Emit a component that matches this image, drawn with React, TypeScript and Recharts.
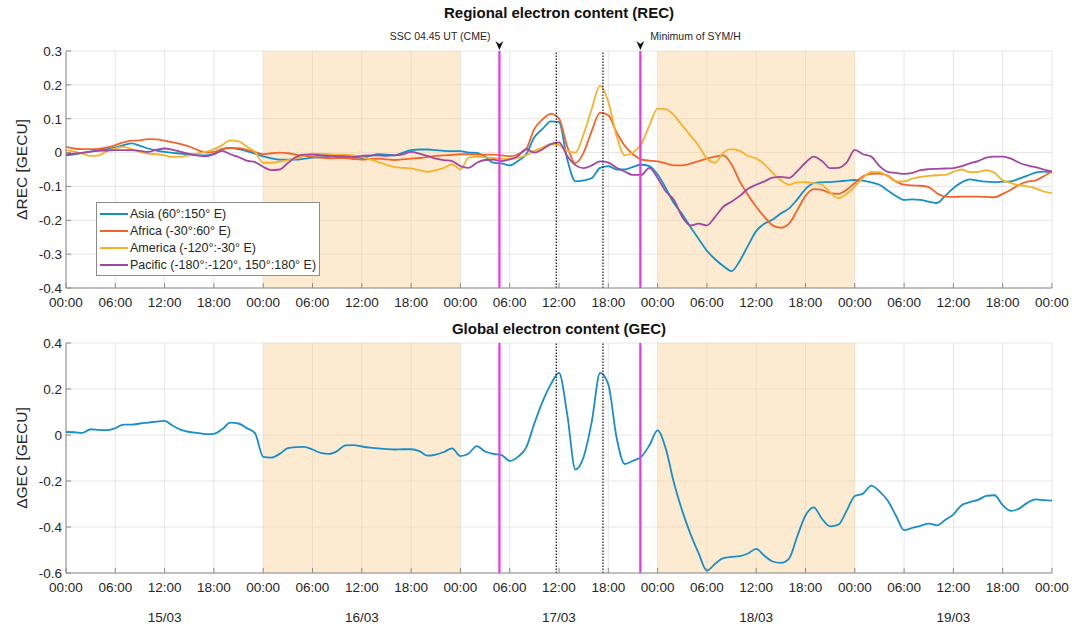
import { LineChart, Line, XAxis, YAxis, CartesianGrid, ReferenceArea, ReferenceLine, Legend } from 'recharts';

// hours since 15/03 00:00 UT
const hours = Array.from({ length: 121 }, (_, i) => i);
const xTicks = [0, 6, 12, 18, 24, 30, 36, 42, 48, 54, 60, 66, 72, 78, 84, 90, 96, 102, 108, 114, 120];
const dayLabels = ['15/03', '16/03', '17/03', '18/03', '19/03'];
const recTicks = [-0.4, -0.3, -0.2, -0.1, 0, 0.1, 0.2, 0.3];
const gecTicks = [-0.6, -0.4, -0.2, 0, 0.2, 0.4];

// shaded days (16/03 and 18/03) and event times
const shadedDays = [[24, 48], [72, 96]];
const sscHour = 52.75;
const symhHour = 69.9;
const peakHours = [59.67, 65.35];

const asia = [
  -0.008, -0.005, -0.001, 0.003, 0.007, 0.01, 0.015, 0.022, 0.027, 0.02, 0.012, 0.006, 0.002, -0.001, -0.003, -0.006,
  -0.008, -0.008, -0.004, 0.01, 0.014, 0.01, 0.004, -0.003, -0.011, -0.017, -0.021, -0.021, -0.021, -0.018, -0.015, -0.014,
  -0.013, -0.01, -0.008, -0.013, -0.016, -0.01, -0.005, -0.006, -0.008, 0.0, 0.007, 0.009, 0.009, 0.007, 0.005, 0.004,
  0.004, 0.0, -0.001, -0.012, -0.03, -0.032, -0.038, -0.025, -0.005, 0.045, 0.07, 0.092, 0.09, -0.02, -0.085, -0.082,
  -0.075, -0.045, -0.04, -0.05, -0.05, -0.042, -0.036, -0.04, -0.065, -0.105, -0.15, -0.182, -0.22, -0.255, -0.29, -0.315,
  -0.335, -0.35, -0.32, -0.275, -0.232, -0.21, -0.198, -0.18, -0.165, -0.138, -0.108, -0.09, -0.088, -0.087, -0.085, -0.083,
  -0.081, -0.083, -0.088, -0.095, -0.112, -0.128, -0.14, -0.138, -0.14, -0.145, -0.149, -0.128, -0.105, -0.088, -0.079, -0.083,
  -0.086, -0.087, -0.086, -0.085, -0.077, -0.068, -0.059, -0.056, -0.058,
];
const africa = [
  0.017, 0.012, 0.01, 0.01, 0.011, 0.015, 0.022, 0.03, 0.035, 0.036, 0.04, 0.039, 0.035, 0.03, 0.025, 0.018,
  0.008, 0.0, 0.002, 0.01, 0.013, 0.013, 0.008, 0.002, -0.005, -0.002, 0.0, -0.002, -0.006, -0.01, -0.013, -0.015,
  -0.017, -0.016, -0.016, -0.019, -0.021, -0.019, -0.018, -0.02, -0.022, -0.02, -0.018, -0.016, -0.013, -0.01, -0.008, -0.007,
  -0.005, -0.005, -0.006, -0.006, -0.006, -0.008, -0.011, -0.005, 0.01, 0.07, 0.098, 0.114, 0.1, 0.018, -0.031, 0.0,
  0.065, 0.118, 0.11, 0.06, 0.02, -0.005, -0.02, -0.024, -0.026, -0.032, -0.038, -0.038, -0.033, -0.025, -0.018, -0.012,
  -0.008, -0.035, -0.085, -0.125, -0.16, -0.19, -0.215, -0.222, -0.21, -0.17, -0.128, -0.108, -0.11, -0.12, -0.122, -0.11,
  -0.09, -0.07, -0.063, -0.062, -0.068, -0.085, -0.095, -0.097, -0.098, -0.102, -0.12, -0.13, -0.131, -0.13, -0.13, -0.13,
  -0.131, -0.132, -0.122, -0.11, -0.095, -0.086, -0.082, -0.07, -0.055,
];
const america = [
  0.007, 0.003, -0.003, -0.01, -0.008, 0.005, 0.012, 0.017, 0.01, 0.002, -0.003, -0.005, -0.008, -0.013, -0.012, -0.008,
  -0.003, 0.002, 0.01, 0.022, 0.036, 0.033, 0.018, 0.002, -0.03, -0.03, -0.027, -0.022, -0.017, -0.01, -0.003, -0.004,
  -0.005, -0.006, -0.006, -0.008, -0.013, -0.02, -0.028, -0.036, -0.043, -0.045, -0.047, -0.052, -0.057, -0.052, -0.045, -0.035,
  -0.05, -0.015, -0.012, -0.014, -0.016, -0.018, -0.02, -0.016, -0.008, 0.005, 0.015, 0.025, 0.022, 0.005, 0.0, 0.055,
  0.13, 0.198, 0.15, 0.05, -0.008, 0.0, 0.025, 0.08, 0.13, 0.128, 0.11, 0.08, 0.05, 0.02, -0.018, -0.03,
  0.0, 0.01, 0.005, -0.01, -0.017, -0.035, -0.06, -0.082, -0.095, -0.088, -0.087, -0.09, -0.095, -0.118, -0.135, -0.122,
  -0.1, -0.075, -0.057, -0.058, -0.07, -0.085, -0.085, -0.077, -0.072, -0.069, -0.067, -0.066, -0.057, -0.05, -0.058, -0.057,
  -0.052, -0.06, -0.082, -0.09, -0.096, -0.1, -0.106, -0.115, -0.12,
];
const pacific = [
  -0.005, -0.003, -0.001, 0.003, 0.005, 0.006, 0.007, 0.007, 0.007, 0.005, 0.002, 0.008, 0.012, 0.008, 0.002, -0.004,
  -0.008, -0.011, -0.005, 0.005, -0.005, -0.013, -0.024, -0.028, -0.042, -0.052, -0.05, -0.031, -0.013, -0.006, -0.006, -0.008,
  -0.01, -0.011, -0.012, -0.013, -0.01, -0.008, -0.008, -0.01, -0.008, -0.005, 0.002, -0.003, -0.01, -0.018, -0.022, -0.025,
  -0.04, -0.045, -0.03, -0.022, -0.021, -0.025, -0.02, -0.01, 0.01, 0.0, 0.01, 0.025, 0.03, -0.01, -0.037, -0.046,
  -0.038, -0.026, -0.03, -0.045, -0.056, -0.066, -0.066, -0.045, -0.075, -0.115, -0.14, -0.19, -0.215, -0.21, -0.215, -0.19,
  -0.16, -0.145, -0.128, -0.107, -0.095, -0.085, -0.074, -0.072, -0.075, -0.055, -0.03, -0.012, -0.025, -0.046, -0.045, -0.03,
  0.008, -0.005, -0.012, -0.04, -0.057, -0.06, -0.063, -0.06, -0.052, -0.049, -0.048, -0.047, -0.046, -0.04, -0.032, -0.025,
  -0.015, -0.012, -0.012, -0.018, -0.03, -0.038, -0.043, -0.05, -0.056,
];
const gec = [
  0.013, 0.012, 0.009, 0.025, 0.022, 0.021, 0.03, 0.045, 0.045, 0.05, 0.054, 0.058, 0.061, 0.04, 0.022, 0.013,
  0.009, 0.004, 0.005, 0.025, 0.054, 0.05, 0.03, 0.008, -0.095, -0.098, -0.082, -0.057, -0.053, -0.052, -0.063, -0.078,
  -0.082, -0.07, -0.045, -0.044, -0.05, -0.055, -0.058, -0.061, -0.063, -0.062, -0.062, -0.07, -0.09, -0.085, -0.074, -0.058,
  -0.092, -0.08, -0.048, -0.072, -0.082, -0.087, -0.113, -0.095, -0.055, 0.05, 0.145, 0.22, 0.27, 0.09, -0.15, -0.095,
  0.06, 0.27, 0.22, -0.01, -0.126, -0.112, -0.095, -0.045, 0.02, -0.06, -0.21, -0.33, -0.43, -0.515, -0.59, -0.56,
  -0.535, -0.53, -0.527, -0.515, -0.495, -0.525, -0.55, -0.556, -0.537, -0.44, -0.35, -0.315, -0.364, -0.397, -0.39, -0.33,
  -0.265, -0.255, -0.22, -0.245, -0.285, -0.35, -0.414, -0.404, -0.395, -0.385, -0.393, -0.37, -0.345, -0.305, -0.292, -0.282,
  -0.265, -0.262, -0.305, -0.33, -0.32, -0.295, -0.28, -0.283, -0.285,
];

const regions = [
  { key: 'asia', name: 'Asia (60°:150° E)', color: '#1590c8' },
  { key: 'africa', name: 'Africa (-30°:60° E)', color: '#f0652b' },
  { key: 'america', name: 'America (-120°:-30° E)', color: '#f7b22a' },
  { key: 'pacific', name: 'Pacific (-180°:-120°, 150°:180° E)', color: '#a2479f' },
];

const recData = hours.map((h, i) => ({ h, asia: asia[i], africa: africa[i], america: america[i], pacific: pacific[i] }));
const gecData = hours.map((h, i) => ({ h, gec: gec[i] }));

const FONT = "'Liberation Sans', Arial, Helvetica, sans-serif";
const TEXT = '#262626';
const AXIS = '#8c8c8c';

function TimeTick(props: any) {
  const { x, y, payload, showDate } = props;
  const h = payload.value as number;
  const hh = h % 24;
  const label = `${String(hh).padStart(2, '0')}:00`;
  return (
    <g>
      <text x={x} y={y} dy="0.71em" textAnchor="middle" fontSize={13.5} fill={TEXT} fontFamily={FONT}>
        {label}
      </text>
      {showDate && hh === 12 && (
        <text x={x} y={y + 30} dy="0.71em" textAnchor="middle" fontSize={13.5} fill={TEXT} fontFamily={FONT}>
          {dayLabels[Math.floor(h / 24)]}
        </text>
      )}
    </g>
  );
}

const eventMarker = (text: string, side: 'left' | 'right') => (props: any) => {
  const { x, y } = props.viewBox;
  return (
    <g>
      <path d={`M${x - 4},${y - 10} L${x},${y - 1} L${x + 4},${y - 10} L${x},${y - 7} Z`} fill="#111" />
      <text
        x={side === 'left' ? x - 9 : x + 10}
        y={y - 11}
        textAnchor={side === 'left' ? 'end' : 'start'}
        fontSize={10.5}
        fill={TEXT}
        fontFamily={FONT}
      >
        {text}
      </text>
    </g>
  );
};

// legend keeps the series order (Asia, Africa, America, Pacific)
function RegionLegend() {
  return (
    <div style={{ border: '1px solid #8c8c8c', background: '#fff', padding: '2px 3px 2px 3px', fontFamily: FONT, fontSize: 12.5, color: TEXT }}>
      {regions.map((r) => (
        <div key={r.key} style={{ display: 'flex', alignItems: 'center', height: 17, whiteSpace: 'nowrap' }}>
          <span style={{ display: 'inline-block', width: 28, height: 2, background: r.color, marginRight: 2 }} />
          <span>{r.name}</span>
        </div>
      ))}
    </div>
  );
}

const titleStyle: React.CSSProperties = {
  position: 'absolute',
  left: 66,
  width: 986,
  textAlign: 'center',
  fontFamily: FONT,
  fontWeight: 'bold',
  fontSize: 15,
  color: '#111',
  lineHeight: '18px',
};

export default function App() {
  return (
    <div style={{ position: 'absolute', left: 0, top: 0, width: 1084, height: 627, background: '#fff', overflow: 'hidden' }}>
      <div style={{ ...titleStyle, top: 4 }}>Regional electron content (REC)</div>
      <div style={{ ...titleStyle, top: 320 }}>Global electron content (GEC)</div>

      <div style={{ position: 'absolute', left: 0, top: 0 }}>
        <LineChart width={1084} height={318} data={recData} margin={{ top: 51, right: 32, bottom: 0, left: 0 }}>
          <CartesianGrid stroke="#e6e6e6" horizontal vertical />
          {shadedDays.map(([a, b]) => (
            <ReferenceArea key={a} x1={a} x2={b} fill="#fbd39a" fillOpacity={0.45} stroke="none" />
          ))}
          <XAxis
            type="number"
            dataKey="h"
            domain={[0, 120]}
            ticks={xTicks}
            allowDataOverflow
            height={30}
            stroke={AXIS}
            tickSize={-5}
            tickMargin={14}
            tick={<TimeTick />}
          />
          <YAxis
            type="number"
            domain={[-0.4, 0.3]}
            ticks={recTicks}
            allowDataOverflow
            width={66}
            stroke={AXIS}
            tickSize={-5}
            tickMargin={9}
            tick={{ fontSize: 13.5, fill: TEXT, fontFamily: FONT }}
            tickFormatter={(v: number) => (v === 0 ? '0' : v.toFixed(1))}
            label={{ value: 'ΔREC [GECU]', angle: -90, position: 'center', dx: -12, style: { fontSize: 15.5, fill: TEXT, fontFamily: FONT } }}
          />
          {regions.map((r) => (
            <Line
              key={r.key}
              type="monotone"
              dataKey={r.key}
              name={r.name}
              stroke={r.color}
              strokeWidth={1.8}
              dot={false}
              isAnimationActive={false}
            />
          ))}
          {peakHours.map((p) => (
            <ReferenceLine key={p} x={p} stroke="#222" strokeWidth={1.3} strokeDasharray="1.5 1.5" />
          ))}
          <ReferenceLine x={sscHour} stroke="#f032f0" strokeWidth={2.2} label={eventMarker('SSC 04.45 UT (CME)', 'left')} />
          <ReferenceLine x={symhHour} stroke="#f032f0" strokeWidth={2.2} label={eventMarker('Minimum of SYM/H', 'right')} />
          <Legend
            layout="vertical"
            align="center"
            verticalAlign="middle"
            content={<RegionLegend />}
            wrapperStyle={{ left: 96, top: 202, width: 'auto' }}
          />
        </LineChart>
      </div>

      <div style={{ position: 'absolute', left: 0, top: 318 }}>
        <LineChart width={1084} height={309} data={gecData} margin={{ top: 25, right: 32, bottom: 24, left: 0 }}>
          <CartesianGrid stroke="#e6e6e6" horizontal vertical />
          {shadedDays.map(([a, b]) => (
            <ReferenceArea key={a} x1={a} x2={b} fill="#fbd39a" fillOpacity={0.45} stroke="none" />
          ))}
          <XAxis
            type="number"
            dataKey="h"
            domain={[0, 120]}
            ticks={xTicks}
            allowDataOverflow
            height={30}
            stroke={AXIS}
            tickSize={-5}
            tickMargin={14}
            tick={<TimeTick showDate />}
          />
          <YAxis
            type="number"
            domain={[-0.6, 0.4]}
            ticks={gecTicks}
            allowDataOverflow
            width={66}
            stroke={AXIS}
            tickSize={-5}
            tickMargin={9}
            tick={{ fontSize: 13.5, fill: TEXT, fontFamily: FONT }}
            tickFormatter={(v: number) => (v === 0 ? '0' : v.toFixed(1))}
            label={{ value: 'ΔGEC [GECU]', angle: -90, position: 'center', dx: -12, style: { fontSize: 15.5, fill: TEXT, fontFamily: FONT } }}
          />
          <Line type="monotone" dataKey="gec" stroke="#1a8ec6" strokeWidth={1.8} dot={false} isAnimationActive={false} />
          {peakHours.map((p) => (
            <ReferenceLine key={p} x={p} stroke="#222" strokeWidth={1.3} strokeDasharray="1.5 1.5" />
          ))}
          <ReferenceLine x={sscHour} stroke="#f032f0" strokeWidth={2.2} />
          <ReferenceLine x={symhHour} stroke="#f032f0" strokeWidth={2.2} />
        </LineChart>
      </div>
    </div>
  );
}
